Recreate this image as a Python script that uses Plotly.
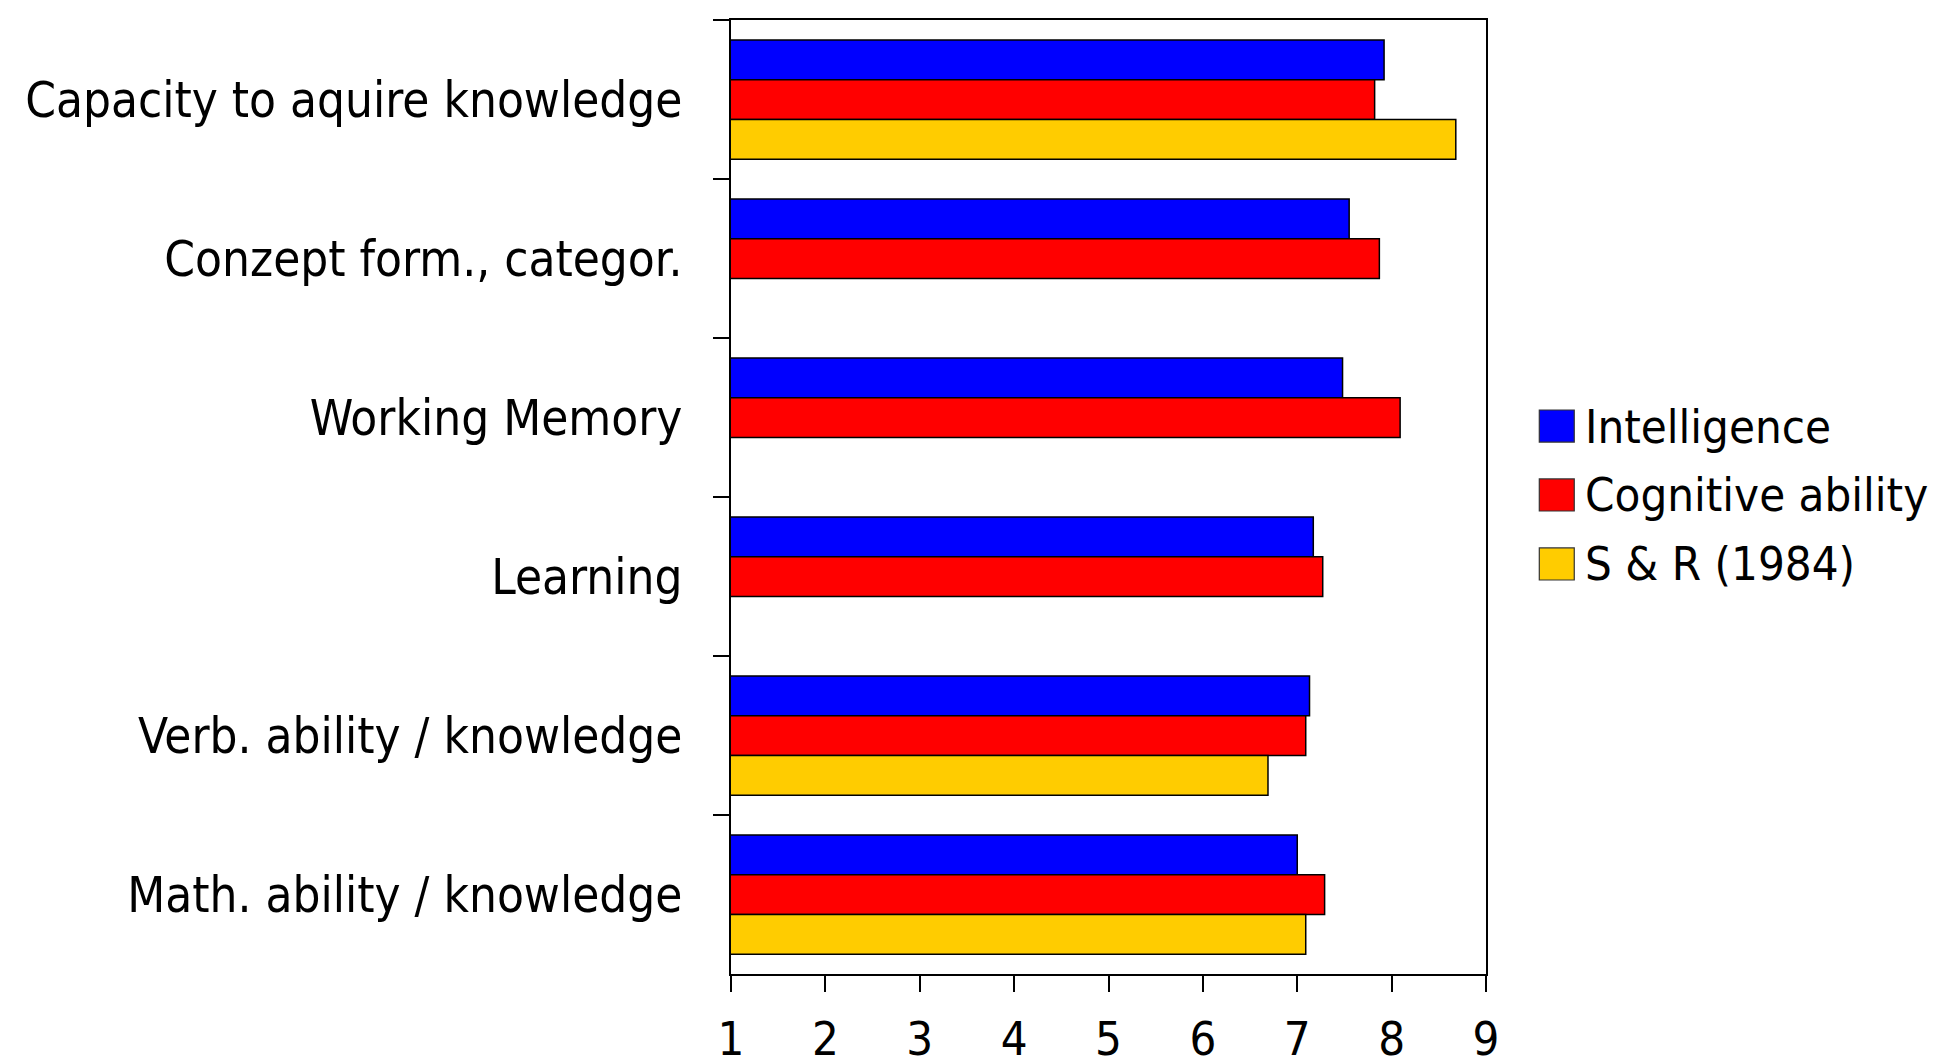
import plotly.graph_objects as go

categories = [
    "Capacity to aquire knowledge",
    "Conzept form., categor.",
    "Working Memory",
    "Learning",
    "Verb. ability / knowledge",
    "Math. ability / knowledge",
]
intelligence = [7.92, 7.55, 7.48, 7.17, 7.13, 7.00]
cognitive = [7.82, 7.87, 8.09, 7.27, 7.09, 7.29]
s_and_r = [8.68, None, None, None, 6.69, 7.09]

series_names = ["Intelligence", "Cognitive ability", "S & R (1984)"]
series_values = [intelligence, cognitive, s_and_r]
colors = ["#0000ff", "#ff0000", "#ffcc00"]
x_ticks = [1, 2, 3, 4, 5, 6, 7, 8, 9]

FONT = "DejaVu Sans Condensed, DejaVu Sans, Verdana, sans-serif"
FS = 49

fig = go.Figure()
for name, vals, col in zip(series_names, series_values, colors):
    fig.add_bar(
        y=categories, x=vals, name=name, orientation="h",
        marker=dict(color=col, line=dict(color="black", width=1.5)),
    )

# hand-drawn legend with big square swatches
shapes, annotations = [], []
legend_y = [0.5744, 0.5021, 0.4298]
for name, col, yc in zip(series_names, colors, legend_y):
    shapes.append(dict(
        type="rect", xref="paper", yref="paper",
        x0=1.0706, x1=1.1169, y0=yc - 0.0168, y1=yc + 0.0168,
        fillcolor=col, line=dict(color="#333333", width=1.2),
    ))
    annotations.append(dict(
        xref="paper", yref="paper", x=1.128, y=yc, text=name,
        showarrow=False, xanchor="left", yanchor="middle",
        font=dict(size=47, color="black", family=FONT),
    ))

fig.update_layout(
    width=1939, height=1063,
    barmode="group", bargap=0.25, bargroupgap=0,
    showlegend=False,
    plot_bgcolor="white", paper_bgcolor="white",
    margin=dict(l=723, r=461, t=12, b=97, autoexpand=False),
    font=dict(family=FONT, size=FS, color="black"),
    shapes=shapes, annotations=annotations,
)
fig.update_xaxes(
    range=[1, 9], tickvals=x_ticks, showgrid=False, zeroline=False,
    showline=True, linecolor="black", linewidth=1.5, mirror=True,
    ticks="outside", ticklen=16, tickwidth=1.5, tickcolor="black",
    ticklabelstandoff=7, tickfont=dict(size=47), automargin=False,
)
fig.update_yaxes(
    autorange="reversed", showgrid=False, zeroline=False,
    showline=True, linecolor="black", linewidth=1.5, mirror=True,
    ticks="outside", tickson="boundaries", ticklen=16, tickwidth=1.5, tickcolor="black",
    ticklabelstandoff=37, tickfont=dict(size=FS), automargin=False,
)

fig.write_html("out.html")
